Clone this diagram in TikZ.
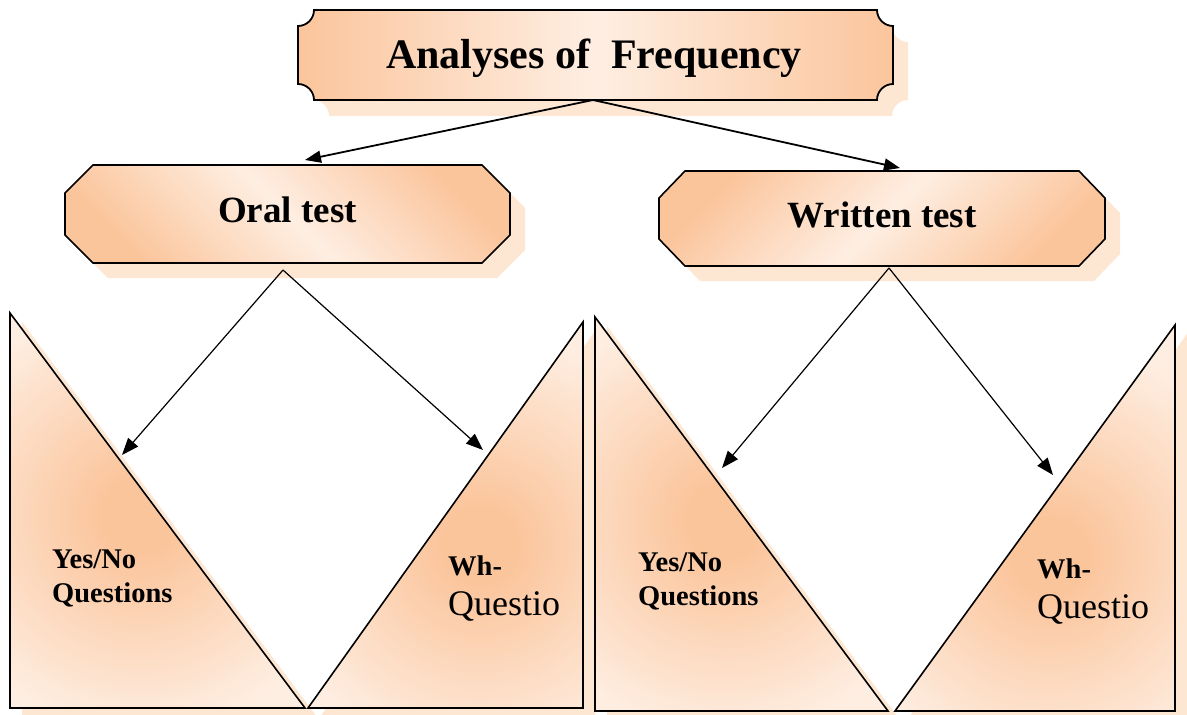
\documentclass[tikz,border=0pt]{standalone}
\usepackage{fontspec}
\setmainfont{Liberation Serif}
\usetikzlibrary{arrows.meta}
\definecolor{pkdark}{RGB}{251,197,156}
\definecolor{pklight}{RGB}{254,238,226}
\definecolor{pkshadow}{RGB}{253,231,211}
\pgfdeclareradialshading{peachglow}{\pgfpoint{0bp}{0bp}}{color(0bp)=(pkdark); color(3bp)=(pkdark); color(17bp)=(pklight); color(50bp)=(pklight)}

% plaque outline with concave corners for the title
\newcommand\freqplaque{(298,26) .. controls (306.8,26) and (314,18.8) .. (314,10) -- (877,10) .. controls (877,18.8) and (884.2,26) .. (893,26) -- (893,84) .. controls (884.2,84) and (877,91.2) .. (877,100) -- (314,100) .. controls (314,91.2) and (306.8,84) .. (298,84) -- cycle}
% chamfered boxes
\newcommand\oralbox{(93,165) -- (482,165) -- (510,193) -- (510,235) -- (482,263) -- (93,263) -- (65,235) -- (65,193) -- cycle}
\newcommand\writbox{(685,171) -- (1079,171) -- (1105,198) -- (1105,239) -- (1079,266) -- (685,266) -- (659,239) -- (659,198) -- cycle}
% right triangles
\newcommand\triA{(10,313) -- (10,708) -- (305,708) -- cycle}
\newcommand\triB{(308,708) -- (583,322) -- (583,708) -- cycle}
\newcommand\triC{(595,317) -- (595,711) -- (888,711) -- cycle}
\newcommand\triD{(895,711) -- (1175,325) -- (1175,711) -- cycle}

\tikzset{
  outline/.style={draw=black, line width=1.6pt, line join=miter},
  shadowfill/.style={fill=pkshadow},
  arrtop/.style={line width=1.8pt, -{Triangle[length=16pt,width=12pt]}},
  arrlow/.style={line width=1.2pt, -{Triangle[length=17pt,width=13pt]}},
  boxtitle/.style={font=\fontsize{42}{48}\selectfont\bfseries, anchor=base, inner sep=0pt},
  boxlabel/.style={font=\fontsize{37}{42}\selectfont\bfseries, anchor=base, inner sep=0pt},
  qbold/.style={font=\fontsize{28.5}{34}\selectfont\bfseries, anchor=base west, inner sep=0pt},
  qplain/.style={font=\fontsize{36}{40}\selectfont, anchor=base west, inner sep=0pt},
}

\begin{document}
\begin{tikzpicture}[x=1pt,y=-1pt]
\useasboundingbox (0,0) rectangle (1187,715);

% drop shadows
\begin{scope}[shift={(15,16)}]
  \fill[shadowfill] \freqplaque;
\end{scope}
\begin{scope}[shift={(15,15)}]
  \fill[shadowfill] \oralbox;
  \fill[shadowfill] \writbox;
\end{scope}
\begin{scope}[shift={(12,9)}]
  \fill[shadowfill] \triA;
  \fill[shadowfill] \triB;
  \fill[shadowfill] \triC;
  \fill[shadowfill] \triD;
\end{scope}

% title plaque
\shade[left color=pkdark, right color=pkdark, middle color=pklight] \freqplaque;
\draw[outline, line width=1.8pt] \freqplaque;

% test boxes
\shade[top color=pkdark, bottom color=pkdark, middle color=pklight, shading angle=-45] \oralbox;
\draw[outline] \oralbox;
\shade[top color=pkdark, bottom color=pkdark, middle color=pklight, shading angle=45] \writbox;
\draw[outline] \writbox;

% triangles with a warm glow near the slanted side
\begin{scope}
  \clip \triA;
  \shade[shading=peachglow] (140,515) circle (320);
\end{scope}
\draw[outline] \triA;
\begin{scope}
  \clip \triB;
  \shade[shading=peachglow] (480,545) circle (320);
\end{scope}
\draw[outline] \triB;
\begin{scope}
  \clip \triC;
  \shade[shading=peachglow] (725,520) circle (320);
\end{scope}
\draw[outline] \triC;
\begin{scope}
  \clip \triD;
  \shade[shading=peachglow] (1050,555) circle (320);
\end{scope}
\draw[outline] \triD;

% labels
\node[boxtitle] (freq) at (594,68) {Analyses of\ \ Frequency};
\node[boxlabel] (oral) at (287.5,222.5) {Oral test};
\node[boxlabel] (writ) at (882,227) {Written test};

\node[qbold] (ynA) at (52,568) {Yes/No};
\node[qbold] (qA) at (52,602) {Questions};
\node[qbold] (whB) at (448,575) {Wh-};
\node[qplain] (qB) at (448,615) {Questio};
\node[qbold] (ynC) at (638,571) {Yes/No};
\node[qbold] (qC) at (638,605) {Questions};
\node[qbold] (whD) at (1037,578) {Wh-};
\node[qplain] (qD) at (1037,618) {Questio};

% connector ends
\coordinate (freqbot) at (593,100);
\coordinate (oraltop) at (305,160);
\coordinate (writtop) at (900,168);
\coordinate (oralbot) at (283,270);
\coordinate (writbot) at (889,268);
\coordinate (ynAtip) at (122,455);
\coordinate (whBtip) at (483,450);
\coordinate (ynCtip) at (722,468);
\coordinate (whDtip) at (1053,475);

% connectors
\draw[arrtop] (freqbot) -- (oraltop);
\draw[arrtop] (freqbot) -- (writtop);
\draw[arrlow] (oralbot) -- (ynAtip);
\draw[arrlow] (oralbot) -- (whBtip);
\draw[arrlow] (writbot) -- (ynCtip);
\draw[arrlow] (writbot) -- (whDtip);
\end{tikzpicture}
\end{document}
